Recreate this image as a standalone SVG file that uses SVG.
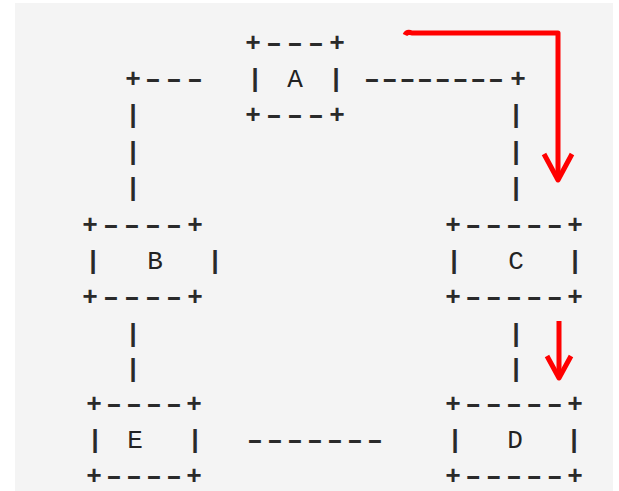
<svg xmlns="http://www.w3.org/2000/svg" width="619" height="491" viewBox="0 0 619 491">
<style>
text{font-family:"Liberation Mono","DejaVu Sans Mono",monospace;font-size:26px;font-weight:bold;fill:#2a2a2a;text-anchor:middle}
.lbl{font-weight:normal;fill:#222}
.red{fill:none;stroke:#ff0000;stroke-width:5;stroke-linecap:butt;stroke-linejoin:round}
</style>
<rect x="0" y="0" width="619" height="491" fill="#ffffff"/>
<rect x="15" y="3" width="598" height="488" fill="#f4f4f4"/>
<g id="node-A">
<text x="253" y="50.6">+</text><text x="337" y="50.6">+</text>
<text transform="scale(1.6,1)" x="171.25 184.375 197.5" y="50.6">---</text>
<text x="255" y="87">|</text><text class="lbl" x="295" y="87">A</text><text x="336" y="87">|</text>
<text x="253" y="123.4">+</text><text x="337" y="123.4">+</text>
<text transform="scale(1.6,1)" x="171.25 184.375 197.5" y="123.4">---</text>
</g>
<g id="node-B">
<text x="90" y="232.6">+</text><text x="195" y="232.6">+</text>
<text transform="scale(1.6,1)" x="69.375 82.5 95.625 108.75" y="232.6">----</text>
<text x="93" y="269">|</text><text class="lbl" x="155" y="269">B</text><text x="215" y="269">|</text>
<text x="90" y="305.4">+</text><text x="195" y="305.4">+</text>
<text transform="scale(1.6,1)" x="69.375 82.5 95.625 108.75" y="305.4">----</text>
</g>
<g id="node-C">
<text x="453" y="232.6">+</text><text x="575" y="232.6">+</text>
<text transform="scale(1.6,1)" x="295.81 308.56 321.25 333.94 346.69" y="232.6">-----</text>
<text x="454" y="269">|</text><text class="lbl" x="516" y="269">C</text><text x="575" y="269">|</text>
<text x="453" y="305.4">+</text><text x="575" y="305.4">+</text>
<text transform="scale(1.6,1)" x="295.81 308.56 321.25 333.94 346.69" y="305.4">-----</text>
</g>
<g id="node-E">
<text x="94" y="411.6">+</text><text x="194" y="411.6">+</text>
<text transform="scale(1.6,1)" x="71.25 83.75 96.25 108.75" y="411.6">----</text>
<text x="95" y="448">|</text><text class="lbl" x="135" y="448">E</text><text x="195" y="448">|</text>
<text x="94" y="484">+</text><text x="194" y="484">+</text>
<text transform="scale(1.6,1)" x="71.25 83.75 96.25 108.75" y="484">----</text>
</g>
<g id="node-D">
<text x="453" y="411.6">+</text><text x="575" y="411.6">+</text>
<text transform="scale(1.6,1)" x="295.81 308.56 321.25 333.94 346.69" y="411.6">-----</text>
<text x="455" y="448">|</text><text class="lbl" x="515" y="448">D</text><text x="574" y="448">|</text>
<text x="453" y="484">+</text><text x="575" y="484">+</text>
<text transform="scale(1.6,1)" x="295.81 308.56 321.25 333.94 346.69" y="484">-----</text>
</g>
<g id="connectors">
<text x="133" y="87">+</text>
<text transform="scale(1.6,1)" x="95.625 108.75 121.875" y="87">---</text>
<text x="133" y="123.4">|</text><text x="133" y="159.8">|</text><text x="133" y="196.2">|</text>
<text transform="scale(1.6,1)" x="232.5 243.56 254.63 265.69 276.75 287.81 298.88 309.94" y="87">--------</text>
<text x="518" y="87">+</text>
<text x="516" y="123.4">|</text><text x="516" y="159.8">|</text><text x="516" y="196.2">|</text>
<text x="133" y="341.8">|</text><text x="133" y="377.2">|</text>
<text x="516" y="341.8">|</text><text x="516" y="377.2">|</text>
<text transform="scale(1.6,1)" x="159.375 171.875 184.375 196.875 209.375 221.875 234.375" y="448">-------</text>
<path class="red" d="M405,35 Q407,31 412,33 L558,33 L558,178"/>
<polyline class="red" points="544,154 558,180 572,154"/>
<path class="red" d="M559,321 L559,376"/>
<polyline class="red" points="547,356 559,378 571,356"/>
</g>
</svg>
